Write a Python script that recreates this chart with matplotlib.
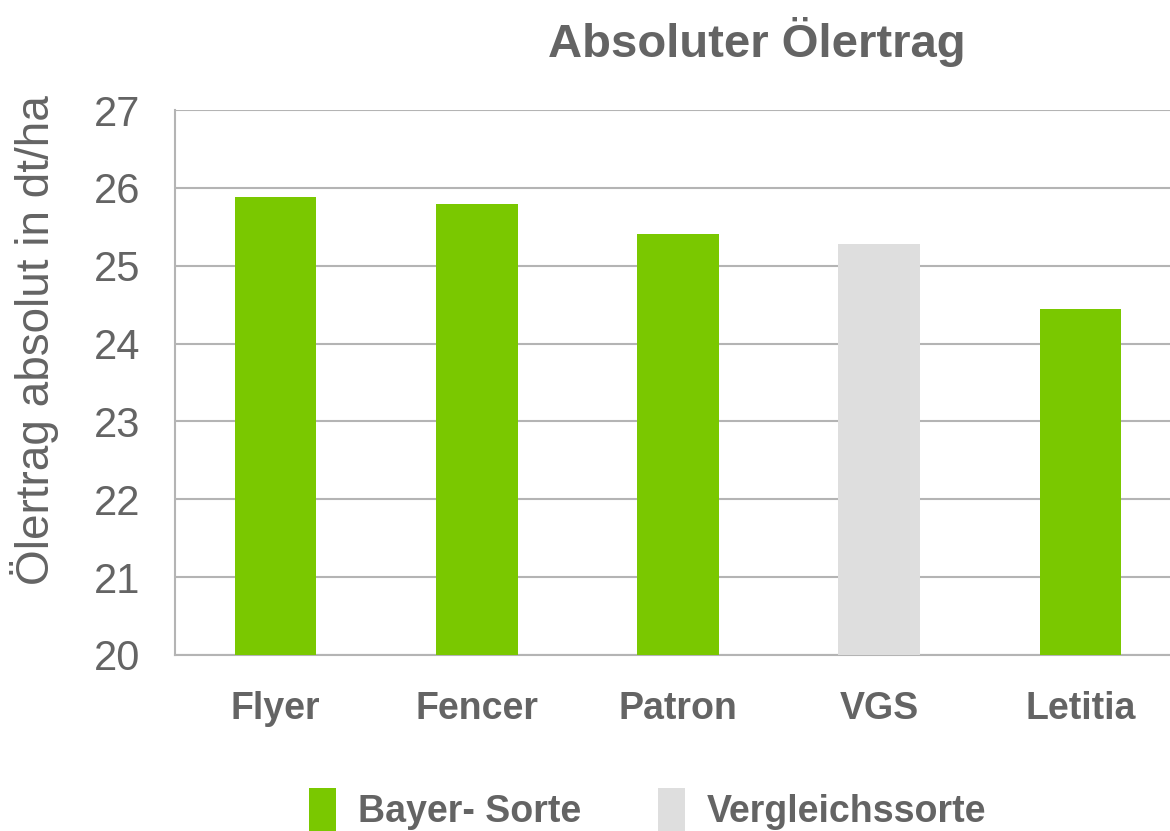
import matplotlib.pyplot as plt
from matplotlib.patches import Patch

plt.rcParams['font.family'] = ['Liberation Sans', 'DejaVu Sans']

sorten = ['Flyer', 'Fencer', 'Patron', 'VGS', 'Letitia']
oelertrag = [25.88, 25.79, 25.41, 25.28, 24.45]
gruppe = ['Bayer', 'Bayer', 'Bayer', 'Vergleich', 'Bayer']

farben = {'Bayer': '#7ac800', 'Vergleich': '#dedede'}
text_col = '#646464'
grid_col = '#b4b4b4'

fig = plt.figure(figsize=(11.7, 8.31), dpi=100)
# axes run slightly past the right edge, like the cut-off original
ax = fig.add_axes([175 / 1170, 176 / 831, (1181 - 175) / 1170, 545 / 831])

x = range(len(sorten))
ax.bar(x, [v - 20 for v in oelertrag], bottom=20, width=0.405,
       color=[farben[g] for g in gruppe], zorder=3)

ax.set_xlim(-0.5, 4.5)
ax.set_ylim(20, 27)
ax.set_yticks(range(20, 28))
ax.yaxis.grid(True, color=grid_col, lw=1.5, zorder=0)
ax.tick_params(axis='y', length=0, labelsize=30, colors=text_col, pad=25)
ax.tick_params(axis='x', length=0, pad=26)
ax.set_xticks(list(x))
ax.set_xticklabels(sorten, fontsize=27, fontweight='bold', color=text_col)

for s in ['top', 'right']:
    ax.spines[s].set_visible(False)
for s in ['left', 'bottom']:
    ax.spines[s].set_color(grid_col)
    ax.spines[s].set_linewidth(1.5)

fig.text(35 / 1170, 1 - 340 / 831, 'Ölertrag absolut in dt/ha', rotation=90,
         ha='center', va='center', fontsize=33, color=text_col)

fig.text(757 / 1170, 1 - 42 / 831, 'Absoluter Ölertrag', ha='center', va='center',
         fontsize=34, fontweight='bold', color=text_col)

handles = [Patch(facecolor=farben['Bayer'], label='Bayer- Sorte'),
           Patch(facecolor=farben['Vergleich'], label='Vergleichssorte')]
leg = fig.legend(handles=handles, loc='center', bbox_to_anchor=(648 / 1170, 1 - 810 / 831),
                 ncol=2, frameon=False, handlelength=0.7, handleheight=1.4,
                 handletextpad=0.6, columnspacing=2.05,
                 prop={'size': 27, 'weight': 'bold'})
for t in leg.get_texts():
    t.set_color(text_col)

fig.savefig('out.png', dpi=100)
